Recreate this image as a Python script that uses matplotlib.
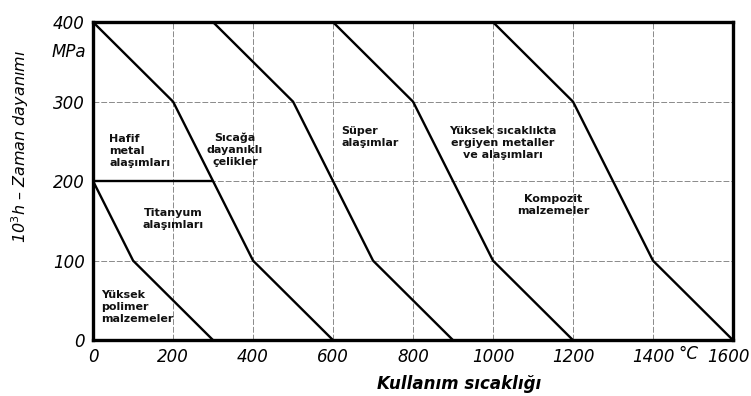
import matplotlib
matplotlib.use("Agg")
import matplotlib.pyplot as plt
from matplotlib.transforms import ScaledTranslation

# ── Data: creep strength (10^3 h) vs. service temperature ─────────────────────
# each boundary curve: temperatures (°C) and strength (MPa)
polymer_t   = [0, 100, 300]
polymer_s   = [200, 100, 0]
light_t     = [0, 200, 400, 600]
light_s     = [400, 300, 100, 0]
steel_t     = [300, 500, 700, 900]
steel_s     = [400, 300, 100, 0]
super_t     = [600, 800, 1000, 1200]
super_s     = [400, 300, 100, 0]
refr_t      = [1000, 1200, 1400, 1600]
refr_s      = [400, 300, 100, 0]
# divider between light metals and titanium alloys
divider_t   = [0, 300]
divider_s   = [200, 200]

x_ticks = [0, 200, 400, 600, 800, 1000, 1200, 1400, 1600]
y_ticks = [0, 100, 200, 300, 400]

region_labels = [
    ("Hafif\nmetal\nalaşımları", 40, 238, "left"),
    ("Sıcağa\ndayanıklı\nçelikler", 355, 240, "center"),
    ("Süper\nalaşımlar", 620, 255, "left"),
    ("Yüksek sıcaklıkta\nergiyen metaller\nve alaşımları", 1025, 248, "center"),
    ("Kompozit\nmalzemeler", 1150, 170, "center"),
    ("Titanyum\nalaşımları", 200, 152, "center"),
    ("Yüksek\npolimer\nmalzemeler", 20, 42, "left"),
]

fig = plt.figure(figsize=(7.51, 3.96), dpi=100, facecolor="white")
ax = fig.add_axes([0.124, 0.141, 0.852, 0.803])
ax.set_xlim(0, 1600)
ax.set_ylim(0, 400)

# grid
for x in x_ticks[1:-1]:
    ax.axvline(x, color="#8a8a8a", lw=0.7, ls=(0, (6, 2)), zorder=1)
for y in y_ticks[1:-1]:
    ax.axhline(y, color="#8a8a8a", lw=0.7, ls=(0, (6, 2)), zorder=1)

for t, s in [(polymer_t, polymer_s), (light_t, light_s), (steel_t, steel_s),
             (super_t, super_s), (refr_t, refr_s), (divider_t, divider_s)]:
    ax.plot(t, s, color="black", lw=1.7, solid_capstyle="butt", zorder=3)

for txt, x, y, ha in region_labels:
    ax.text(x, y, txt, ha=ha, va="center", fontsize=8, fontweight="bold",
            linespacing=1.25, color="#111111", zorder=4)

for sp in ax.spines.values():
    sp.set_linewidth(2.4)

ax.set_xticks(x_ticks)
ax.set_yticks(y_ticks)
ax.set_xticklabels([str(v) for v in x_ticks], fontsize=12, style="italic")
ax.set_yticklabels([str(v) for v in y_ticks], fontsize=12, style="italic")
ax.tick_params(length=0, pad=6)
# keep the last label inside the figure
last = ax.get_xticklabels()[-1]
last.set_transform(last.get_transform() + ScaledTranslation(-0.05, 0, fig.dpi_scale_trans))

ax.text(1488, -6, "°C", ha="center", va="top", fontsize=12, style="italic",
        transform=ax.transData, clip_on=False)
ax.text(-18, 362, "MPa", ha="right", va="center", fontsize=12, style="italic",
        clip_on=False)

fig.text(0.027, 0.63, "10$^3$h – Zaman dayanımı", rotation=90, ha="center",
         va="center", fontsize=11.5, style="italic")
fig.text(0.612, 0.03, "Kullanım sıcaklığı", ha="center", va="center",
         fontsize=12, style="italic", fontweight="bold")

fig.savefig("out.png", dpi=100, facecolor="white")
